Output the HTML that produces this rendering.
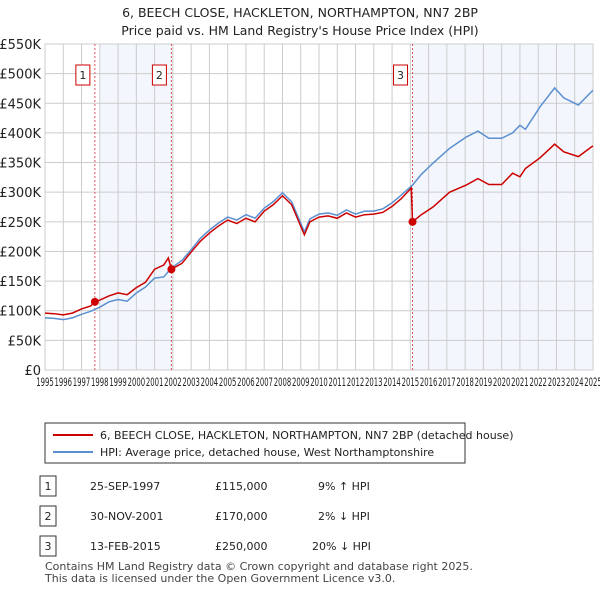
<!DOCTYPE html>
<html><head><meta charset="utf-8"><style>
body{margin:0;background:#fff;font-family:"Liberation Sans","DejaVu Sans",sans-serif;}
svg text{font-family:"DejaVu Sans","Liberation Sans",sans-serif;}
</style></head><body>
<svg id="c" width="600" height="590" xmlns="http://www.w3.org/2000/svg">
<text x="300" y="17" text-anchor="middle" font-size="12.5" fill="#222">6, BEECH CLOSE, HACKLETON, NORTHAMPTON, NN7 2BP</text>
<text x="300" y="35" text-anchor="middle" font-size="12.5" fill="#222">Price paid vs. HM Land Registry's House Price Index (HPI)</text>
<g id="plot"></g>
<g>
<rect x="45" y="423" width="420" height="40" fill="#fff" stroke="#333" stroke-width="1"/>
<line x1="53" y1="435" x2="93" y2="435" stroke="#cc0000" stroke-width="2"/>
<text x="100" y="439" font-size="11" fill="#222">6, BEECH CLOSE, HACKLETON, NORTHAMPTON, NN7 2BP (detached house)</text>
<line x1="53" y1="452" x2="93" y2="452" stroke="#5b8fd0" stroke-width="2"/>
<text x="100" y="456" font-size="11" fill="#222">HPI: Average price, detached house, West Northamptonshire</text>
</g>
<g font-size="11" fill="#222">
<rect x="40" y="476" width="16" height="20" fill="#fff" stroke="#333"/><text x="48" y="490" text-anchor="middle">1</text>
<text x="90" y="490">25-SEP-1997</text><text x="215" y="490">£115,000</text><text x="318" y="490">9% ↑ HPI</text>
<rect x="40" y="506" width="16" height="20" fill="#fff" stroke="#333"/><text x="48" y="520" text-anchor="middle">2</text>
<text x="90" y="520">30-NOV-2001</text><text x="215" y="520">£170,000</text><text x="318" y="520">2% ↓ HPI</text>
<rect x="40" y="536" width="16" height="20" fill="#fff" stroke="#333"/><text x="48" y="550" text-anchor="middle">3</text>
<text x="90" y="550">13-FEB-2015</text><text x="215" y="550">£250,000</text><text x="312" y="550">20% ↓ HPI</text>
</g>
<text x="45" y="570" font-size="11" fill="#444">Contains HM Land Registry data © Crown copyright and database right 2025.</text>
<text x="45" y="582" font-size="11" fill="#444">This data is licensed under the Open Government Licence v3.0.</text>
</svg>
<script>
const yTicks=[0,50,100,150,200,250,300,350,400,450,500,550];
const yTickLabels=["£0","£50K","£100K","£150K","£200K","£250K","£300K","£350K","£400K","£450K","£500K","£550K"];
const xYears=[1995,1996,1997,1998,1999,2000,2001,2002,2003,2004,2005,2006,2007,2008,2009,2010,2011,2012,2013,2014,2015,2016,2017,2018,2019,2020,2021,2022,2023,2024,2025];
const saleDates=[1997.73,2001.92,2015.12];
const salePrices=[115,170,250];
const saleLabels=["1","2","3"];
const hpiDates=[1995,1995.5,1996,1996.5,1997,1997.5,1998,1998.5,1999,1999.5,2000,2000.5,2001,2001.5,2001.92,2002.5,2003,2003.5,2004,2004.5,2005,2005.5,2006,2006.5,2007,2007.5,2008,2008.5,2009.2,2009.5,2010,2010.5,2011,2011.5,2012,2012.5,2013,2013.5,2014,2014.5,2015.12,2015.6,2016.24,2017.15,2018.06,2018.7,2019.3,2020,2020.6,2021,2021.3,2022.1,2022.9,2023.4,2024.2,2024.9,2025];
const hpiValues=[88,87,85,88,94,99,106,115,119,116,130,140,155,157,172,185,203,222,236,248,258,253,262,256,273,284,299,284,233,255,263,265,261,270,263,268,268,272,282,295,312,330,349,374,393,403,391,391,400,413,406,444,476,459,447,469,472];
const priceDates=[1995,1995.5,1996,1996.5,1997,1997.5,1997.73,1998,1998.5,1999,1999.5,2000,2000.5,2001,2001.5,2001.75,2001.92,2002.5,2003,2003.5,2004,2004.5,2005,2005.5,2006,2006.5,2007,2007.5,2008,2008.5,2009.2,2009.5,2010,2010.5,2011,2011.5,2012,2012.5,2013,2013.5,2014,2014.5,2015.05,2015.12,2015.6,2016.24,2017.15,2018.06,2018.7,2019.3,2020,2020.6,2021,2021.3,2022.1,2022.9,2023.4,2024.2,2024.9,2025];
const priceValues=[96,95,93,96,103,108,115,118,125,130,127,139,148,170,177,189,170,180,199,217,231,243,253,247,256,250,268,279,294,279,228,250,258,260,256,265,258,262,263,266,276,289,307,250,262,275,300,312,323,313,313,332,326,340,358,381,368,360,376,378];
const X0=45,X1=593,Y0=370,Y1=44;
const xs=y=>X0+(y-1995)/30*(X1-X0);
const ys=v=>Y0-v/550*(Y0-Y1);
const NS="http://www.w3.org/2000/svg";
const g=document.getElementById('plot');
function mk(t,a){const e=document.createElementNS(NS,t);for(const k in a)e.setAttribute(k,a[k]);g.appendChild(e);return e;}
let r=mk('rect',{x:xs(1998),y:Y1,width:xs(2001.92)-xs(1998),height:Y0-Y1,fill:'#eef3fc',opacity:0.7});


r=mk('rect',{x:xs(2015.12),y:Y1,width:X1-xs(2015.12),height:Y0-Y1,fill:'#eef3fc',opacity:0.7});


yTicks.forEach((v,i)=>{
 const l=mk('line',{x1:X0,x2:X1,y1:ys(v),y2:ys(v),stroke:'#ccc','stroke-width':1});
 
 
 const t=mk('text',{x:X0-4,y:ys(v)+5,'text-anchor':'end','font-size':13,fill:'#222'});
 t.textContent=yTickLabels[i];
 
 
});
xYears.forEach(yr=>{
 const l=mk('line',{x1:xs(yr),x2:xs(yr),y1:Y1,y2:Y0,stroke:'#ccc','stroke-width':1});
 
 
 const t=mk('text',{x:xs(yr),y:386,'text-anchor':'middle','font-size':11.5,fill:'#222','textLength':17.5,'lengthAdjust':'spacingAndGlyphs'});
 t.textContent=yr;
 
 
});
const fr=mk('rect',{x:X0,y:Y1,width:X1-X0,height:Y0-Y1,fill:'none',stroke:'#ccc'});


saleDates.forEach((d,i)=>{
 const l=mk('line',{x1:xs(d),x2:xs(d),y1:Y1,y2:Y0,stroke:'#e05060','stroke-width':1,'stroke-dasharray':'2,2'});
 
 
 const b=mk('rect',{x:xs(d)-19,y:65,width:14,height:20,fill:'#fff',stroke:'#cc0000'});
 
 
 const t=mk('text',{x:xs(d)-12,y:79,'text-anchor':'middle','font-size':11,fill:'#222'});
 t.textContent=saleLabels[i];
 
 
});
let p=mk('polyline',{points:hpiDates.map((d,i)=>xs(d)+','+ys(hpiValues[i])).join(' '),fill:'none',stroke:'#5b8fd0','stroke-width':1.5});


p=mk('polyline',{points:priceDates.map((d,i)=>xs(d)+','+ys(priceValues[i])).join(' '),fill:'none',stroke:'#cc0000','stroke-width':1.5});


saleDates.forEach((d,i)=>{
 const c=mk('circle',{cx:xs(d),cy:ys(salePrices[i]),r:4,fill:'#cc0000'});
 
 
});
</script>
</body></html>
